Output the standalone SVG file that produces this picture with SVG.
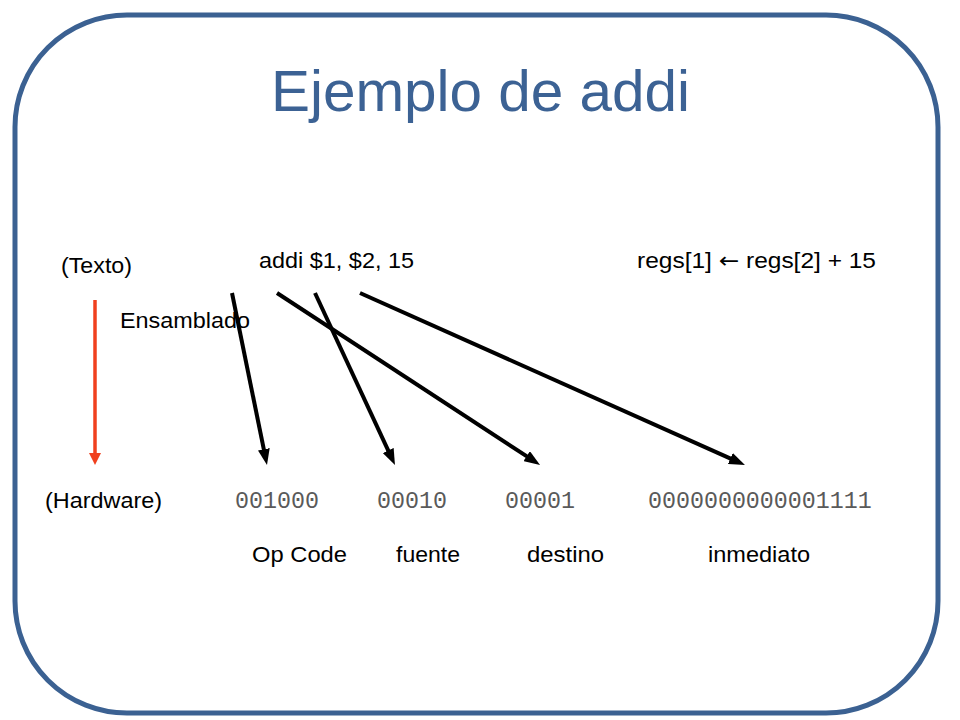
<svg xmlns="http://www.w3.org/2000/svg" width="960" height="720" viewBox="0 0 960 720">
  <style>
    .lbl { font-family: "Liberation Sans", Arial, sans-serif; font-size: 22px; fill: #000; }
    .bin { font-family: "Liberation Mono", "Courier New", monospace; font-size: 23.3px; fill: #5a5a5a; }
    .title { font-family: "Liberation Sans", Arial, sans-serif; font-size: 58px; fill: #3C6294; }
    .conn { stroke: #000; stroke-width: 4; fill: none; }
    .red { stroke: #F0401E; stroke-width: 3.5; fill: none; }
  </style>
  <defs>
    <marker id="ah" markerUnits="userSpaceOnUse" markerWidth="16" markerHeight="12" refX="4" refY="6" orient="auto">
      <path d="M0,0 L16,6 L0,12 z" fill="#000"/>
    </marker>
    <marker id="ahr" markerUnits="userSpaceOnUse" markerWidth="12" markerHeight="12" refX="2" refY="6" orient="auto">
      <path d="M0,0 L12,6 L0,12 z" fill="#F0401E"/>
    </marker>
  </defs>
  <rect x="0" y="0" width="960" height="720" fill="#fff"/>
  <rect id="frame" x="15" y="15" width="923" height="698" rx="112" ry="112" fill="none" stroke="#3B6192" stroke-width="5"/>
  <g id="title"><text class="title" x="271" y="111" textLength="419" lengthAdjust="spacingAndGlyphs">Ejemplo de addi</text></g>

  <g id="texto"><text class="lbl" x="61" y="273" textLength="71" lengthAdjust="spacingAndGlyphs">(Texto)</text></g>
  <g id="ensamblado"><text class="lbl" x="120" y="328" textLength="130" lengthAdjust="spacingAndGlyphs">Ensamblado</text></g>
  <g id="hardware"><text class="lbl" x="45" y="508" textLength="117" lengthAdjust="spacingAndGlyphs">(Hardware)</text></g>
  <g id="asm"><text class="lbl" x="259" y="268" textLength="155" lengthAdjust="spacingAndGlyphs">addi $1, $2, 15</text></g>
  <g id="rtl"><text class="lbl" x="637" y="268" textLength="239" lengthAdjust="spacingAndGlyphs">regs[1] <tspan font-family="DejaVu Sans, sans-serif">←</tspan> regs[2] + 15</text></g>

  <g id="opcode-bits"><text class="bin" x="235" y="508">001000</text></g>
  <g id="fuente-bits"><text class="bin" x="377" y="508">00010</text></g>
  <g id="destino-bits"><text class="bin" x="505" y="508">00001</text></g>
  <g id="inmediato-bits"><text class="bin" x="648" y="508">0000000000001111</text></g>

  <g id="opcode-label"><text class="lbl" x="252" y="562" textLength="95" lengthAdjust="spacingAndGlyphs">Op Code</text></g>
  <g id="fuente-label"><text class="lbl" x="396" y="562" textLength="64" lengthAdjust="spacingAndGlyphs">fuente</text></g>
  <g id="destino-label"><text class="lbl" x="527" y="562" textLength="77" lengthAdjust="spacingAndGlyphs">destino</text></g>
  <g id="inmediato-label"><text class="lbl" x="708" y="562" textLength="102" lengthAdjust="spacingAndGlyphs">inmediato</text></g>

  <g id="connectors">
    <line class="red" x1="95" y1="300" x2="95" y2="455" marker-end="url(#ahr)"/>
    <line class="conn" x1="232" y1="293" x2="264.6" y2="453.2" marker-end="url(#ah)"/>
    <line class="conn" x1="277" y1="293" x2="530" y2="458.4" marker-end="url(#ah)"/>
    <line class="conn" x1="315" y1="293" x2="389.9" y2="454.1" marker-end="url(#ah)"/>
    <line class="conn" x1="360" y1="293" x2="734" y2="460.1" marker-end="url(#ah)"/>
  </g>
</svg>
